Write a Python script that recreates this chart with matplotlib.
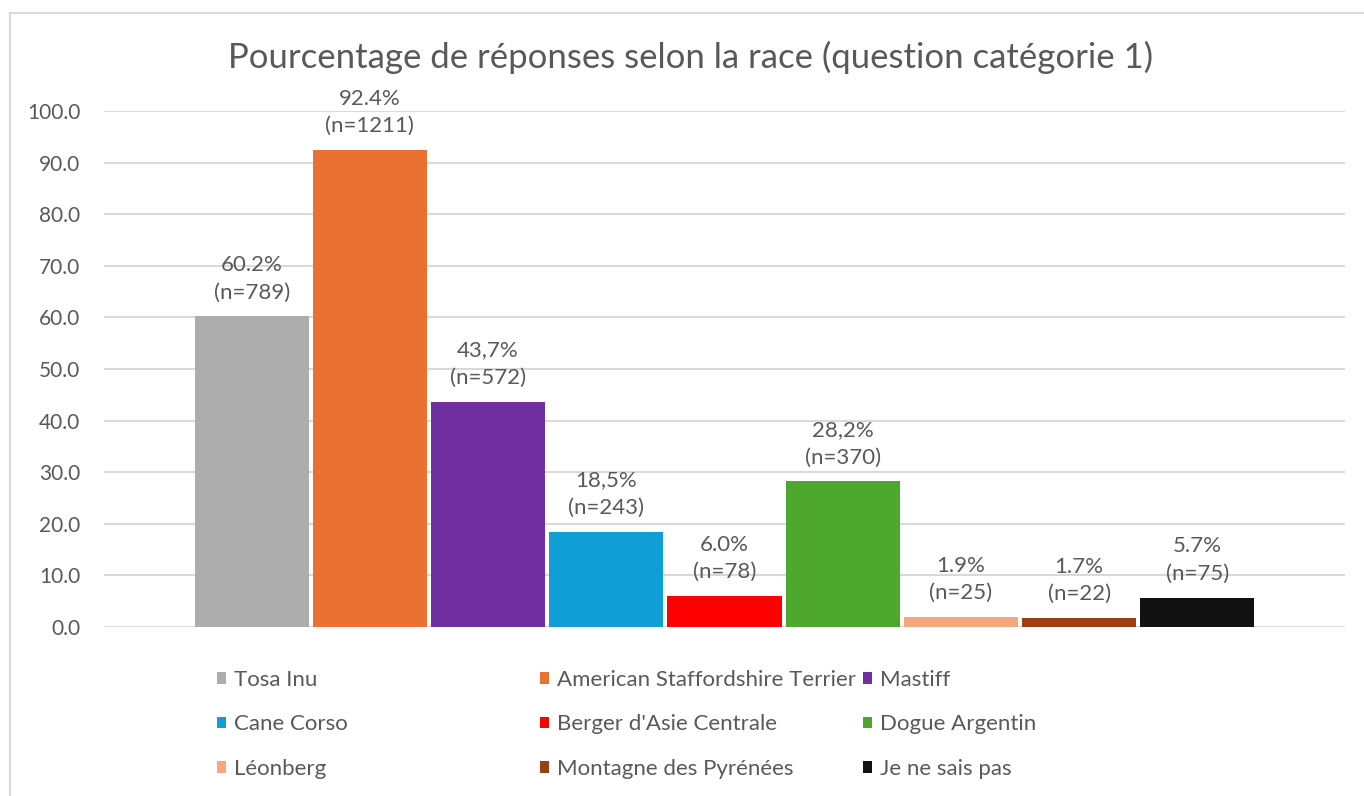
import matplotlib.pyplot as plt
from matplotlib.patches import Patch, Rectangle

# ── data ──────────────────────────────────────────────────────────────────────
races = ["Tosa Inu", "American Staffordshire Terrier", "Mastiff",
         "Cane Corso", "Berger d'Asie Centrale", "Dogue Argentin",
         "Léonberg", "Montagne des Pyrénées", "Je ne sais pas"]
pourcentages = [60.2, 92.4, 43.7, 18.5, 6.0, 28.2, 1.9, 1.7, 5.7]
pct_labels = ["60.2%", "92.4%", "43,7%", "18,5%", "6.0%", "28,2%", "1.9%", "1.7%", "5.7%"]
effectifs = [789, 1211, 572, 243, 78, 370, 25, 22, 75]
couleurs = ["#ADADAD", "#E97132", "#7030A0", "#0F9ED5", "#FF0000",
            "#4EA72E", "#F5A77E", "#9C3F14", "#111111"]

TXT = "#595959"
GRID = "#D9D9D9"
FONT = "Lato"

plt.rcParams["font.family"] = [FONT, "DejaVu Sans"]

fig = plt.figure(figsize=(13.64, 7.96), dpi=100)
W, H = 1364, 796

# outer chart frame (cropped on the right / bottom like the screenshot)
fig.patches.append(Rectangle((10 / W, -0.05), 1.2, 1 - 13 / H + 0.05,
                             transform=fig.transFigure, fill=False,
                             edgecolor=GRID, linewidth=1.5))

ax = fig.add_axes([104 / W, 1 - 627 / H, (1345 - 104) / W, (627 - 111) / H])

x = list(range(len(races)))
bars = ax.bar(x, pourcentages, width=0.965, color=couleurs, zorder=2)

for xi, val, lab, n in zip(x, pourcentages, pct_labels, effectifs):
    ax.annotate(f"{lab}\n(n={n})", (xi, val), xytext=(0, 10),
                textcoords="offset points", ha="center", va="bottom",
                fontsize=16, color=TXT, linespacing=1.45, zorder=3)

ax.set_xlim(-1.25, 9.25)
ax.set_ylim(0, 100)
ax.set_yticks(range(0, 101, 10))
ax.set_yticklabels([f"{v:.1f}" for v in range(0, 101, 10)])
ax.tick_params(axis="y", length=0, pad=17, labelsize=15, labelcolor=TXT)
ax.set_xticks([])
ax.grid(axis="y", color=GRID, linewidth=1.5, zorder=0)
ax.set_axisbelow(True)
for s in ax.spines.values():
    s.set_visible(False)

fig.text(691 / W, 1 - 57 / H,
         "Pourcentage de réponses selon la race (question catégorie 1)",
         ha="center", va="center", fontsize=25, color=TXT)

# legend: three columns placed like the reference, filled row by row
handles = [Patch(facecolor=c, edgecolor="none", label=r) for r, c in zip(races, couleurs)]
col_x = [217, 540, 863]
for col in range(3):
    hs = handles[col::3]
    fig.legend(handles=hs, loc="upper left",
               bbox_to_anchor=(col_x[col] / W, 1 - 670 / H),
               frameon=False, fontsize=16, labelcolor=TXT,
               handlelength=0.42, handleheight=0.42, handletextpad=0.35,
               labelspacing=1.1, borderpad=0, borderaxespad=0)

fig.savefig("out.png", dpi=100)
